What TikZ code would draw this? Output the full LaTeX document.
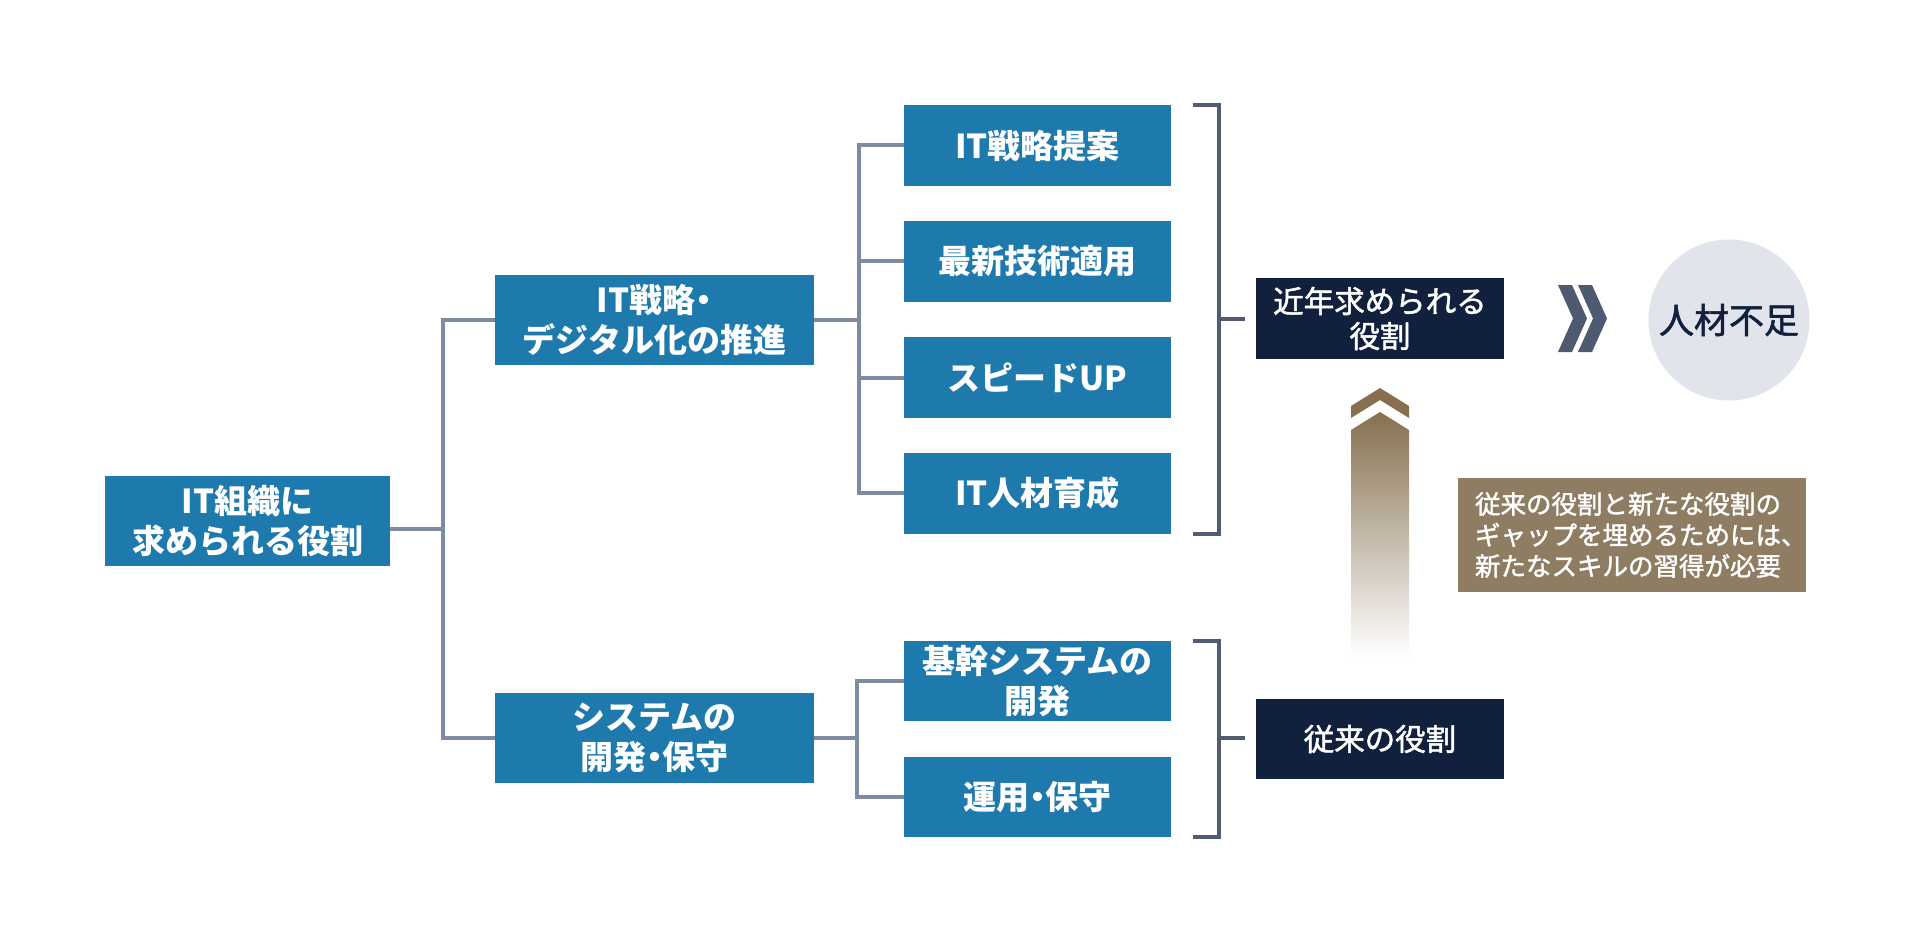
\documentclass[tikz,border=0pt]{standalone}
\usepackage{fontspec}
\setmainfont{Noto Sans CJK JP}
\newfontfamily\jpmed{Noto Sans CJK JP}[FakeBold=1.6]
\usetikzlibrary{calc}
\newcommand\jdot{\makebox[0.5em]{・}}
\definecolor{boxblue}{RGB}{30,122,173}
\definecolor{navyc}{RGB}{17,32,61}
\definecolor{conn}{RGB}{125,139,163}
\definecolor{brk}{RGB}{82,92,112}
\definecolor{circc}{RGB}{225,228,234}
\definecolor{chev}{RGB}{78,90,111}
\definecolor{tanc}{RGB}{143,125,99}
\definecolor{brownc}{RGB}{134,112,80}
\tikzset{
  bluebox/.style={fill=boxblue, text=white, inner sep=0pt, align=center,
    font=\fontsize{33}{40}\selectfont\bfseries},
  navybox/.style={fill=navyc, text=white, inner sep=0pt, align=center,
    font=\jpmed\fontsize{30.5}{35}\selectfont},
  conline/.style={draw=conn, line width=4pt},
  brkline/.style={draw=brk, line width=4pt},
}
\begin{document}
\begin{tikzpicture}[x=1pt,y=-1pt]
\useasboundingbox[fill=white] (0,0) rectangle (1920,952);

% boxes
\node[bluebox, minimum width=285pt, minimum height=90pt] (root) at (247.5,521) {IT組織に\\求められる役割};
\node[bluebox, minimum width=319pt, minimum height=90pt] (strat) at (654.5,320) {IT戦略\jdot\\デジタル化の推進};
\node[bluebox, minimum width=319pt, minimum height=90pt] (sys) at (654.5,738) {システムの\\開発\jdot 保守};

\node[bluebox, minimum width=267pt, minimum height=81pt] (r1) at (1037.5,145.5) {IT戦略提案};
\node[bluebox, minimum width=267pt, minimum height=81pt] (r2) at (1037.5,261.5) {最新技術適用};
\node[bluebox, minimum width=267pt, minimum height=81pt] (r3) at (1037.5,377.5) {スピードUP};
\node[bluebox, minimum width=267pt, minimum height=81pt] (r4) at (1037.5,493) {IT人材育成};
\node[bluebox, minimum width=267pt, minimum height=80pt] (r5) at (1037.5,681) {基幹システムの\\開発};
\node[bluebox, minimum width=267pt, minimum height=80pt] (r6) at (1037.5,797) {運用\jdot 保守};

\node[navybox, minimum width=248pt, minimum height=81pt] (recent) at (1380,318.5) {近年求められる\\役割};
\node[navybox, minimum width=248pt, minimum height=80pt] (trad) at (1380,739) {従来の役割};

\node[circle, fill=circc, minimum size=161pt, inner sep=0pt, text=navyc,
  font=\jpmed\fontsize{35}{40}\selectfont] (short) at (1729,320) {人材不足};

\node[fill=tanc, minimum width=348pt, minimum height=114pt, inner sep=0pt] (note) at (1632,535) {};
\node[anchor=west, text=white, align=left, inner sep=0pt,
  font=\jpmed\fontsize{25.5}{31}\selectfont] (notetext) at ([xshift=17pt]note.west)
  {従来の役割と新たな役割の\\ギャップを埋めるためには、\\新たなスキルの習得が必要};

% tree connectors
\coordinate (rj) at (443,529);
\draw[conline] (root.east |- rj) -- (rj);
\draw[conline] (strat.west) -| (rj) |- (sys.west);

\coordinate (sj) at (859,320);
\draw[conline] (strat.east) -- (sj);
\draw[conline] (r1.west) -| (sj) |- (r4.west);
\draw[conline] (r2.west) -- (r2.west -| sj);
\draw[conline] (r3.west) -- (r3.west -| sj);

\coordinate (yj) at (857,738);
\draw[conline] (sys.east) -- (yj);
\draw[conline] (r5.west) -| (yj) |- (r6.west);

% brackets
\draw[brkline] ([xshift=22pt]r1.north east) -- ([xshift=48pt]r1.north east)
  -- ([xshift=48pt]r4.south east) -- ([xshift=22pt]r4.south east);
\coordinate (b1) at (1219,319);
\coordinate (t1) at (1245,319);
\draw[brkline] (b1) -- (t1);

\draw[brkline] ([xshift=22pt]r5.north east) -- ([xshift=48pt]r5.north east)
  -- ([xshift=48pt]r6.south east) -- ([xshift=22pt]r6.south east);
\coordinate (b2) at (1219,738);
\coordinate (t2) at (1245,738);
\draw[brkline] (b2) -- (t2);

% double chevron
\fill[chev] (1558,285) -- (1572,285) -- (1587,318.5) -- (1572,352) -- (1558,352) -- (1573,318.5) -- cycle;
\fill[chev] (1578,285) -- (1592,285) -- (1607,318.5) -- (1592,352) -- (1578,352) -- (1593,318.5) -- cycle;

% gradient up arrow
\fill[brownc] (1380,388) -- (1409,406) -- (1409,418) -- (1380,400) -- (1351,418) -- (1351,406) -- cycle;
\shade[top color=brownc, middle color=brownc!70!white, bottom color=white]
  (1380,412) -- (1409,430) -- (1409,657) -- (1351,657) -- (1351,430) -- cycle;
\end{tikzpicture}
\end{document}
